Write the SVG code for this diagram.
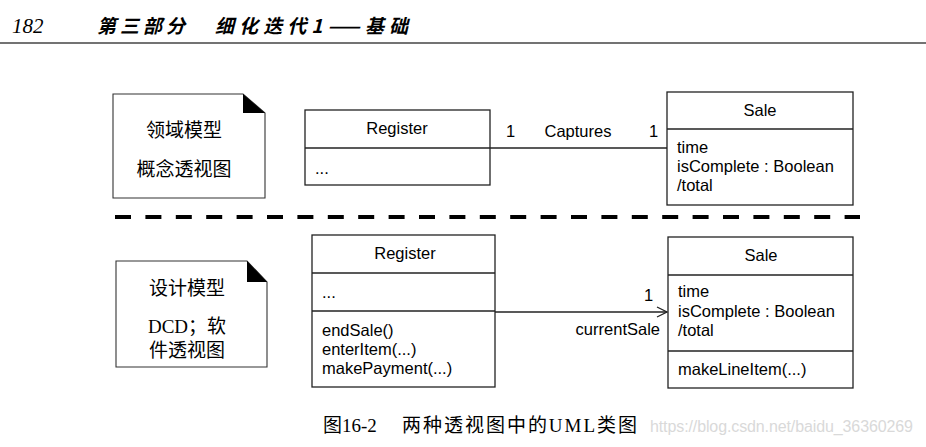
<svg xmlns="http://www.w3.org/2000/svg" width="926" height="447" viewBox="0 0 926 447">
<defs>
<style>
.box{fill:#fff;stroke:#222;stroke-width:1.3}
.ln{stroke:#222;stroke-width:1.3;fill:none}
.t{font-family:"Liberation Sans",Arial,sans-serif;font-size:16.5px;fill:#000}
.c{text-anchor:middle}
.cjk{font-family:"Liberation Serif","Noto Sans CJK SC",serif;font-size:19px;fill:#000;text-anchor:middle}
.note{fill:#fff;stroke:#333;stroke-width:1.1}
.ear{fill:#000}
</style>
<marker id="open" viewBox="0 0 12 12" refX="11" refY="6" markerWidth="12" markerHeight="12" markerUnits="userSpaceOnUse" orient="auto">
<path d="M1,1 L11,6 L1,11" fill="none" stroke="#222" stroke-width="1.3"/>
</marker>
</defs>
<rect width="926" height="447" fill="#fff"/>

<g id="header">
<text x="12" y="33" font-family="Liberation Serif,serif" font-style="italic" font-size="21" fill="#000">182</text>
<text x="97" y="33" font-family="Noto Sans CJK SC,sans-serif" font-style="italic" font-weight="bold" font-size="19" fill="#000" textLength="88">第三部分</text>
<text x="215" y="33" font-family="Noto Sans CJK SC,sans-serif" font-style="italic" font-weight="bold" font-size="19" fill="#000" textLength="193">细化迭代1——基础</text>
<line x1="0" y1="43" x2="926" y2="43" stroke="#444" stroke-width="1.5"/>
</g>

<g id="note-domain">
<path class="note" d="M113,94 H243 L265,113 V198 H113 Z"/>
<path class="ear" d="M243,94 L265,113 L243,113 Z"/>
<text class="cjk" x="184" y="137">领域模型</text>
<text class="cjk" x="184" y="176">概念透视图</text>
</g>

<g id="register-domain">
<rect class="box" x="305" y="110" width="185" height="75"/>
<line class="ln" x1="305" y1="148" x2="490" y2="148"/>
<text class="t c" x="397" y="134">Register</text>
<text class="t" x="315" y="174" font-size="13">...</text>
</g>

<g id="sale-domain">
<rect class="box" x="667" y="92" width="186" height="113"/>
<line class="ln" x1="667" y1="129" x2="853" y2="129"/>
<text class="t c" x="760" y="116">Sale</text>
<text class="t" x="677" y="153">time</text>
<text class="t" x="677" y="172">isComplete : Boolean</text>
<text class="t" x="677" y="191">/total</text>
</g>

<g id="separator">
<line x1="115" y1="217" x2="860" y2="217" stroke="#000" stroke-width="4" stroke-dasharray="16 14.4"/>
</g>

<g id="note-design">
<path class="note" d="M116,261 H247 L267,282 V367 H116 Z"/>
<path class="ear" d="M247,261 L267,282 L247,282 Z"/>
<text class="cjk" x="187" y="295">设计模型</text>
<text class="cjk" x="187" y="333">DCD；软</text>
<text class="cjk" x="187" y="357">件透视图</text>
</g>

<g id="register-design">
<rect class="box" x="312" y="235" width="183" height="152"/>
<line class="ln" x1="312" y1="273" x2="495" y2="273"/>
<line class="ln" x1="312" y1="311" x2="495" y2="311"/>
<text class="t c" x="405" y="259">Register</text>
<text class="t" x="322" y="298" font-size="13">...</text>
<text class="t" x="322" y="336">endSale()</text>
<text class="t" x="322" y="355">enterItem(...)</text>
<text class="t" x="322" y="374">makePayment(...)</text>
</g>

<g id="sale-design">
<rect class="box" x="668" y="237" width="185" height="151"/>
<line class="ln" x1="668" y1="275" x2="853" y2="275"/>
<line class="ln" x1="668" y1="351" x2="853" y2="351"/>
<text class="t c" x="761" y="261">Sale</text>
<text class="t" x="678" y="297">time</text>
<text class="t" x="678" y="317">isComplete : Boolean</text>
<text class="t" x="678" y="336">/total</text>
<text class="t" x="678" y="375">makeLineItem(...)</text>
</g>

<g id="connectors">
<line class="ln" x1="490" y1="148" x2="667" y2="148"/>
<text class="t" x="506" y="137">1</text>
<text class="t c" x="578" y="137">Captures</text>
<text class="t" x="649" y="137">1</text>
<line class="ln" x1="495" y1="312" x2="667" y2="312" marker-end="url(#open)"/>
<text class="t" x="644" y="301">1</text>
<text class="t" x="660" y="335" text-anchor="end">currentSale</text>
</g>

<g id="caption">
<text x="323" y="432" font-family="Liberation Serif,Noto Sans CJK SC,serif" font-size="19" fill="#000">图16-2</text>
<text x="402" y="432" font-family="Liberation Serif,Noto Sans CJK SC,serif" font-size="19" fill="#000" textLength="235">两种透视图中的UML类图</text>
<text x="650" y="432" font-family="Liberation Sans,Arial,sans-serif" font-size="16" fill="#d9d9d9" textLength="263">https://blog.csdn.net/baidu_36360269</text>
</g>
</svg>
